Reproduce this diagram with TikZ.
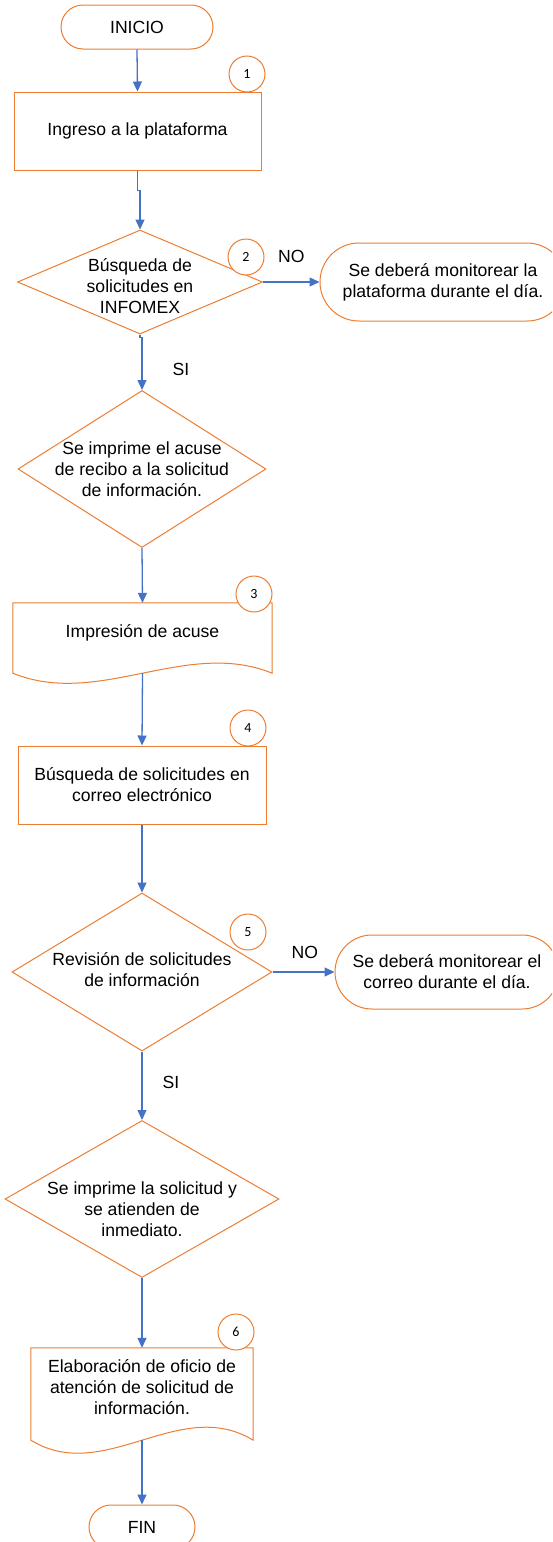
\documentclass[tikz,border=0pt]{standalone}
\usepackage{fontspec}
\setmainfont{Liberation Sans}
\newfontfamily\numfont{Carlito}
\usetikzlibrary{shapes}
\usetikzlibrary{arrows.meta}
\definecolor{borde}{HTML}{ED7D31}
\definecolor{flecha}{HTML}{4472C4}
% texto centrado dentro del rombo sin agrandarlo
\newcommand{\dtexto}[2][0pt]{\smash{\makebox[0pt]{\raisebox{\dimexpr-0.25em-#1\relax}{\begin{tabular}{@{}c@{}}#2\end{tabular}}}}}

\begin{document}
\begin{tikzpicture}[x=1pt,y=-1pt]
	\tikzstyle{every node}=[font=\fontsize{17.6}{21}\selectfont]
	\tikzstyle{terminal}=[rounded rectangle,draw=borde,line width=1pt,fill=white,align=center,inner sep=0pt]
	\tikzstyle{proceso}=[rectangle,draw=borde,line width=1pt,align=center,inner sep=0pt]
	\tikzstyle{decision}=[diamond,draw=borde,line width=1pt,inner sep=0pt]
	\tikzstyle{documento}=[rectangle,align=center,inner sep=0pt]
	\tikzstyle{paso}=[circle,draw=borde,line width=1pt,fill=white,minimum size=36pt,inner sep=0pt,font=\numfont\fontsize{14}{16}\selectfont]
	\tikzstyle{flujo}=[draw=flecha,line width=1.3pt,-{Triangle[length=10pt,width=9pt]}]
	\tikzstyle{etiqueta}=[inner sep=0pt]
	
	\clip (0,0) rectangle (552,1542);
	
	\node[terminal,minimum width=152pt,minimum height=44pt] (inicio) at (137,27) {INICIO};
	\node[proceso,minimum width=247pt,minimum height=78pt] (ingreso) at (137.5,131) {Ingreso a la plataforma};
	\node[decision,minimum width=245pt,minimum height=104pt] (infomex) at (140,282) {\dtexto[6pt]{Búsqueda de\\solicitudes en\\INFOMEX}};
	\node[terminal,minimum width=246pt,minimum height=78pt] (monplat) at (443,282) {Se deberá monitorear la\\plataforma durante el día.};
	\node[decision,minimum width=248pt,minimum height=157pt] (imprime) at (142,469) {\dtexto[2pt]{Se imprime el acuse\\de recibo a la solicitud\\de información.}};
	
	\node[documento,minimum width=259pt,minimum height=60pt] (acuse) at (142.5,633) {Impresión de acuse};
	\draw[borde,line width=1pt] (acuse.north west) -- (acuse.north east) -- ([yshift=-10pt]acuse.south east)
		.. controls +(-86,-35) and +(86,35) .. ([yshift=-10pt]acuse.south west) -- cycle;
	
	\node[proceso,minimum width=248pt,minimum height=78pt] (correo) at (142,785) {Búsqueda de solicitudes en\\correo electrónico};
	\node[decision,minimum width=260pt,minimum height=158pt] (revision) at (142,972) {\dtexto{Revisión de solicitudes\\de información}};
	\node[terminal,minimum width=224pt,minimum height=74pt] (moncorreo) at (447,972) {Se deberá monitorear el\\correo durante el día.};
	\node[decision,minimum width=274pt,minimum height=157pt] (atiende) at (142,1199) {\dtexto[12pt]{Se imprime la solicitud y\\se atienden de\\inmediato.}};
	
	\node[documento,minimum width=222pt,minimum height=78pt] (oficio) at (142,1387) {Elaboración de oficio de\\atención de solicitud de\\información.};
	\draw[borde,line width=1pt] (oficio.north west) -- (oficio.north east) -- ([yshift=-14pt]oficio.south east)
		.. controls +(-74,-45) and +(74,45) .. ([yshift=-14pt]oficio.south west) -- cycle;
	
	\node[terminal,minimum width=106pt,minimum height=44pt] (fin) at (142,1527) {FIN};
	
	% numeros de paso
	\node[paso] (n1) at (247,74) {1};
	\node[paso] (n2) at (246,257) {2};
	\node[paso] (n3) at (254,594) {3};
	\node[paso] (n4) at (248,728) {4};
	\node[paso] (n5) at (248,932) {5};
	\node[paso] (n6) at (236,1332) {6};
	
	% conectores
	\draw[flujo] (inicio.south) -- (ingreso.north);
	\draw[flujo] (ingreso.south) -- ++(0,20) -| (infomex.north);
	\draw[flujo] (infomex.east) -- node[etiqueta,above=19pt] (no1) {NO} (monplat.west);
	\draw[flujo] (infomex.south) -- ++(0,3) -| node[etiqueta,pos=0.8,right=30pt] (si1) {SI} (imprime.north);
	\draw[flujo] (imprime.south) -- (acuse.north);
	\draw[flujo] ([yshift=-10pt]acuse.south) -- (correo.north);
	\draw[flujo] (correo.south) -- (revision.north);
	\draw[flujo] (revision.east) -- node[etiqueta,above=13pt,pos=0.52] (no2) {NO} (moncorreo.west);
	\draw[flujo] (revision.south) -- node[etiqueta,right=20pt,pos=0.45] (si2) {SI} (atiende.north);
	\draw[flujo] (atiende.south) -- (oficio.north);
	\draw[flujo] ([yshift=-14pt]oficio.south) -- (fin.north);
\end{tikzpicture}
\end{document}
